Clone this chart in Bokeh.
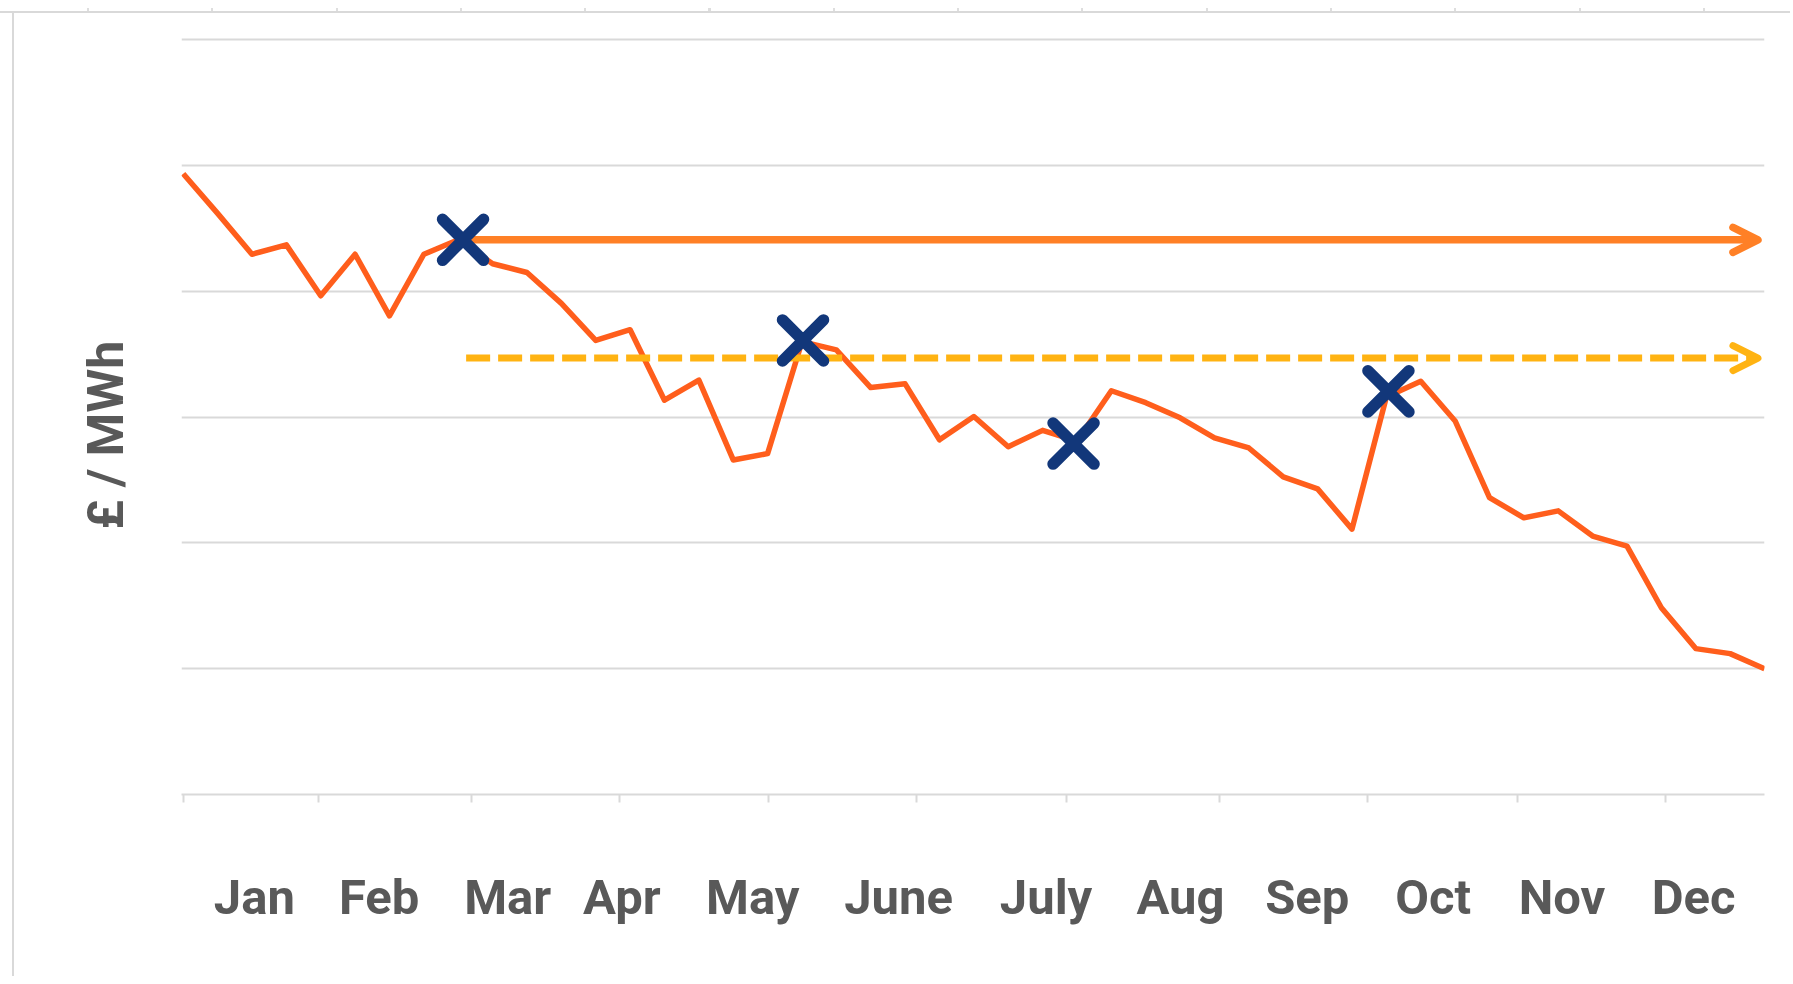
from bokeh.plotting import figure
from bokeh.models import Range1d, FixedTicker, Arrow, OpenHead, Title
from bokeh.embed import file_html
from bokeh.resources import INLINE

# ---- data (weekly index, £/MWh) ----
week = list(range(47))
price = [98.7, 92.4, 85.9, 87.4, 79.3, 85.9, 76.1, 85.9, 88.2, 84.4,
         83.0, 78.1, 72.2, 73.9, 62.7, 65.9, 53.2, 54.2, 72.0, 70.7,
         64.7, 65.3, 56.4, 60.1, 55.3, 57.9, 56.2, 64.2, 62.3, 59.9,
         56.7, 55.1, 50.5, 48.6, 42.2, 63.2, 65.7, 59.4, 47.2, 44.0,
         45.1, 41.1, 39.5, 29.7, 23.2, 22.4, 20.0]

marker_week = [8.14, 18.03, 25.9, 35.06]
marker_price = [88.2, 72.2, 55.8, 64.1]

fixed_level = 88.2      # solid arrow level
target_level = 69.4     # dashed arrow level
fixed_start, target_start, arrow_end = 8.14, 8.23, 45.81

months = ["Jan", "Feb", "Mar", "Apr", "May", "June", "July", "Aug",
          "Sep", "Oct", "Nov", "Dec"]
month_label_pos = [2.07, 5.70, 9.44, 12.76, 16.57, 20.81, 25.10, 29.01,
                   32.70, 36.36, 40.11, 43.94]
month_starts = [0.0, 3.93, 8.38, 12.68, 17.04, 21.34, 25.70, 30.14,
                34.45, 38.81, 43.11]
y_ticks = [0, 20, 40, 60, 80, 100, 120]

GRID = "#d9d9d9"
TEXT = "#595959"

p = figure(width=1790, height=976,
           x_range=Range1d(-0.05, 46.0), y_range=Range1d(0, 120.37),
           output_backend="svg", toolbar_location=None,
           min_border_left=181, min_border_right=26,
           min_border_top=37, min_border_bottom=182)
p.outline_line_color = None
p.border_fill_color = None
p.background_fill_color = "white"

# light outer frame with small tick marks along its top edge
p.styles = {
    "background-image": ("linear-gradient(#d9d9d9, #d9d9d9), "
                         "linear-gradient(#d9d9d9, #d9d9d9), "
                         "repeating-linear-gradient(to right, #dedede 0px, #dedede 2px, "
                         "transparent 2px, transparent 124.3px)"),
    "background-size": "100% 2px, 2px 100%, calc(100% - 87px) 4px",
    "background-position": "0px 11px, 12px 11px, 87px 8px",
    "background-repeat": "no-repeat",
}

# y axis: hidden, only gridlines
p.yaxis.ticker = FixedTicker(ticks=y_ticks)
p.yaxis.visible = False
p.ygrid.ticker = FixedTicker(ticks=y_ticks)
p.ygrid.grid_line_color = GRID
p.ygrid.grid_line_width = 2
p.xgrid.visible = False

# x axis: month boundary ticks (minor) + month labels (major, no tick marks)
ax = p.xaxis[0]
ax.ticker = FixedTicker(ticks=month_label_pos, minor_ticks=month_starts)
ax.major_label_overrides = {pos: m for pos, m in zip(month_label_pos, months)}
ax.major_tick_line_color = None
ax.major_tick_out = 0
ax.major_tick_in = 0
ax.minor_tick_out = 8
ax.minor_tick_in = 0
ax.minor_tick_line_color = GRID
ax.minor_tick_line_width = 2
ax.axis_line_color = GRID
ax.axis_line_width = 2
ax.major_label_text_font = "Roboto"
ax.major_label_text_font_style = "bold"
ax.major_label_text_font_size = "49px"
ax.major_label_text_color = TEXT
ax.major_label_standoff = 66

# price line
p.line(week, price, line_color="#ff5e1c", line_width=5.5, line_join="round")

# arrows
p.add_layout(Arrow(x_start=fixed_start, y_start=fixed_level,
                   x_end=arrow_end, y_end=fixed_level,
                   line_color="#ff8026", line_width=7.5,
                   end=OpenHead(size=25, line_color="#ff8026", line_width=7.5,
                                line_cap="round", line_join="round")))
p.add_layout(Arrow(x_start=target_start, y_start=target_level,
                   x_end=arrow_end, y_end=target_level,
                   line_color="#ffb312", line_width=7, line_dash="24 8",
                   end=OpenHead(size=25, line_color="#ffb312", line_width=7,
                                line_cap="round", line_join="round")))

# markers
r = p.scatter(marker_week, marker_price, marker="x", size=58,
              line_color="#12377a", line_width=11.5, line_cap="round")
r.level = "overlay"

# y axis title
p.add_layout(Title(text="£ / MWh", align="left", offset=265,
                   vertical_align="top", standoff=90,
                   text_font="Roboto", text_font_style="bold",
                   text_font_size="50px", text_color=TEXT), "left")

open("out.html", "w").write(file_html(p, INLINE))
